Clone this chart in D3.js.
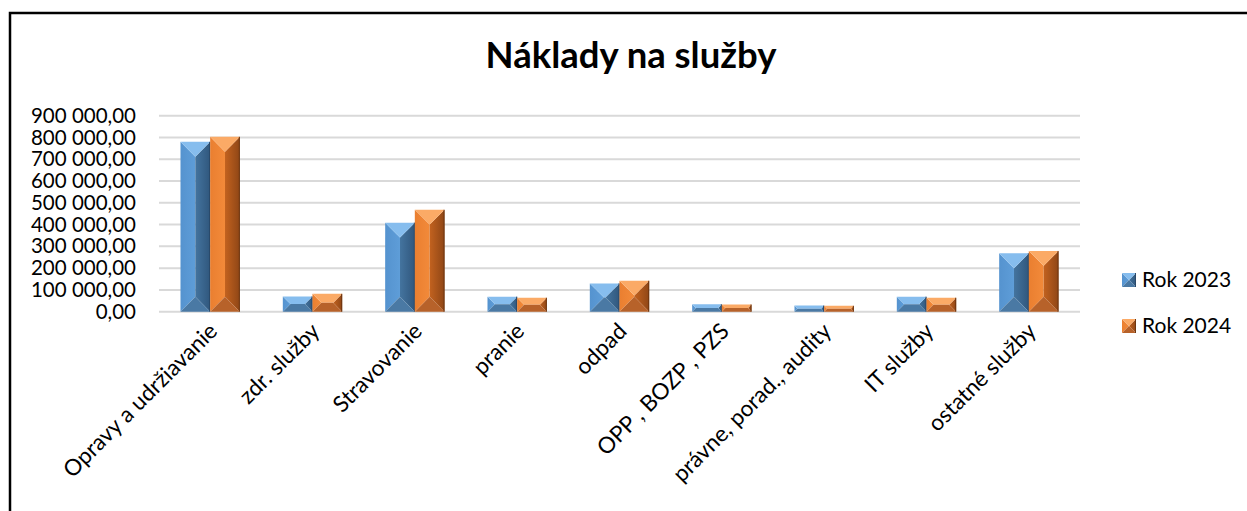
<!DOCTYPE html>
<html>
<head>
<meta charset="utf-8">
<script src="https://cdn.jsdelivr.net/npm/d3@7"></script>
<style>
  html, body { margin: 0; padding: 0; background: #fff; overflow: hidden; }
  svg { display: block; }
  text { font-family: Lato, "Open Sans", sans-serif; fill: #000; }
</style>
</head>
<body>
<svg id="chart" width="1247" height="511"></svg>
<script>
const categories = ["Opravy a udržiavanie", "zdr. služby", "Stravovanie", "pranie", "odpad", "OPP , BOZP , PZS", "právne, porad., audity", "IT služby", "ostatné služby"];
const seriesNames = ["Rok 2023", "Rok 2024"];
const values2023 = [780000, 70000, 409000, 69000, 130000, 34000, 28000, 69000, 268000];
const values2024 = [803000, 82000, 468000, 64000, 142000, 33000, 27000, 64000, 279000];
const yTicks = [0, 100000, 200000, 300000, 400000, 500000, 600000, 700000, 800000, 900000];
const title = "Náklady na služby";

const series = [values2023, values2024];

const svg = d3.select("#chart");
const plot = { left: 159, right: 1080, top: 115.7, bottom: 311.7 };

const pal = [
  { top: "#86bdee", left0: "#5e9dd8", left1: "#5593cf", right0: "#44749f", right1: "#30577d", bottom: "#4a79a4", edge: "#2a4868" },
  { top: "#fbaa66", left0: "#f28a3a", left1: "#ea7f30", right0: "#c2621f", right1: "#8f4616", bottom: "#b7622a", edge: "#6e3610" }
];

const defs = svg.append("defs");
pal.forEach((p, i) => {
  const gl = defs.append("linearGradient").attr("id", "gl" + i).attr("x1", 0).attr("x2", 1).attr("y1", 0).attr("y2", 0);
  gl.append("stop").attr("offset", 0).attr("stop-color", p.left1);
  gl.append("stop").attr("offset", 1).attr("stop-color", p.left0);
  const gr = defs.append("linearGradient").attr("id", "gr" + i).attr("x1", 0).attr("x2", 1).attr("y1", 0).attr("y2", 0);
  gr.append("stop").attr("offset", 0).attr("stop-color", p.right0);
  gr.append("stop").attr("offset", 1).attr("stop-color", p.right1);
});

// frame
svg.append("rect").attr("x", 10).attr("y", 13).attr("width", 1300).attr("height", 600)
  .attr("fill", "#fff").attr("stroke", "#000").attr("stroke-width", 2.5);

const x0 = d3.scaleBand().domain(categories).range([plot.left, plot.right]).paddingInner(0.42).paddingOuter(0.21);
const x1 = d3.scaleBand().domain(d3.range(series.length)).range([0, x0.bandwidth()]);
const y = d3.scaleLinear().domain([0, 900000]).range([plot.bottom, plot.top]);

const locale = d3.formatLocale({ decimal: ",", thousands: " ", grouping: [3], currency: ["", ""] });
const fmt = locale.format(",.2f");

// gridlines
svg.append("g").selectAll("line").data(yTicks).join("line")
  .attr("x1", plot.left).attr("x2", plot.right)
  .attr("y1", d => y(d)).attr("y2", d => y(d))
  .attr("stroke", "#d9d9d9").attr("stroke-width", 2);

// y axis labels
const yAxis = d3.axisLeft(y).tickValues(yTicks).tickFormat(fmt).tickSize(0).tickPadding(0);
const gy = svg.append("g").attr("transform", `translate(136,0)`).call(yAxis);
gy.select(".domain").remove();
gy.selectAll("text").style("font-family", "Lato").style("font-size", "20.5px").attr("fill", "#000");

function bevel(g, bx0, bx1, by0, by1, p, i) {
  const w = bx1 - bx0, h = by1 - by0;
  const d = Math.min(w / 2, h / 2);
  const ix0 = bx0 + d, ix1 = bx1 - d, iy0 = by0 + d, iy1 = by1 - d;
  const poly = pts => "M" + pts.map(q => q.join(",")).join("L") + "Z";
  g.append("path").attr("d", poly([[bx0, by0], [ix0, iy0], [ix0, iy1], [bx0, by1]])).attr("fill", `url(#gl${i})`);
  g.append("path").attr("d", poly([[bx1, by0], [ix1, iy0], [ix1, iy1], [bx1, by1]])).attr("fill", `url(#gr${i})`);
  if (ix1 > ix0 && iy1 > iy0) g.append("rect").attr("x", ix0).attr("y", iy0).attr("width", ix1 - ix0).attr("height", iy1 - iy0).attr("fill", p.left0);
  g.append("path").attr("d", poly([[bx0, by0], [bx1, by0], [ix1, iy0], [ix0, iy0]])).attr("fill", p.top);
  g.append("path").attr("d", poly([[bx0, by1], [bx1, by1], [ix1, iy1], [ix0, iy1]])).attr("fill", p.bottom);
  g.append("line").attr("x1", bx1 - 0.5).attr("x2", bx1 - 0.5).attr("y1", by0).attr("y2", by1).attr("stroke", p.edge).attr("stroke-width", 1);
}

const gb = svg.append("g");
categories.forEach((c, ci) => {
  series.forEach((s, si) => {
    const bx = x0(c) + x1(si);
    bevel(gb, bx, bx + x1.bandwidth(), y(s[ci]), y(0), pal[si], si);
  });
});

// category labels
const gx = svg.append("g");
gx.selectAll("text").data(categories).join("text")
  .attr("transform", d => `translate(${x0(d) + x0.bandwidth() / 2 + 3},327) rotate(-45)`)
  .attr("text-anchor", "end").attr("dy", "0.35em")
  .style("font-size", "22.5px")
  .text(d => d);

// title
const t = svg.append("text").attr("x", 631).attr("y", 68).attr("text-anchor", "middle")
  .style("font-weight", "bold").style("font-size", "30px").text(title);
const tl = t.node().getComputedTextLength();
t.style("font-size", (30 * 291 / tl) + "px");

// legend
const lg = svg.append("g");
seriesNames.forEach((n, i) => {
  const ly = 273 + i * 46;
  bevel(lg, 1122, 1136, ly, ly + 14, pal[i], i);
  lg.append("text").attr("x", 1142).attr("y", ly + 14).style("font-size", "21px").text(n);
});
</script>
</body>
</html>
